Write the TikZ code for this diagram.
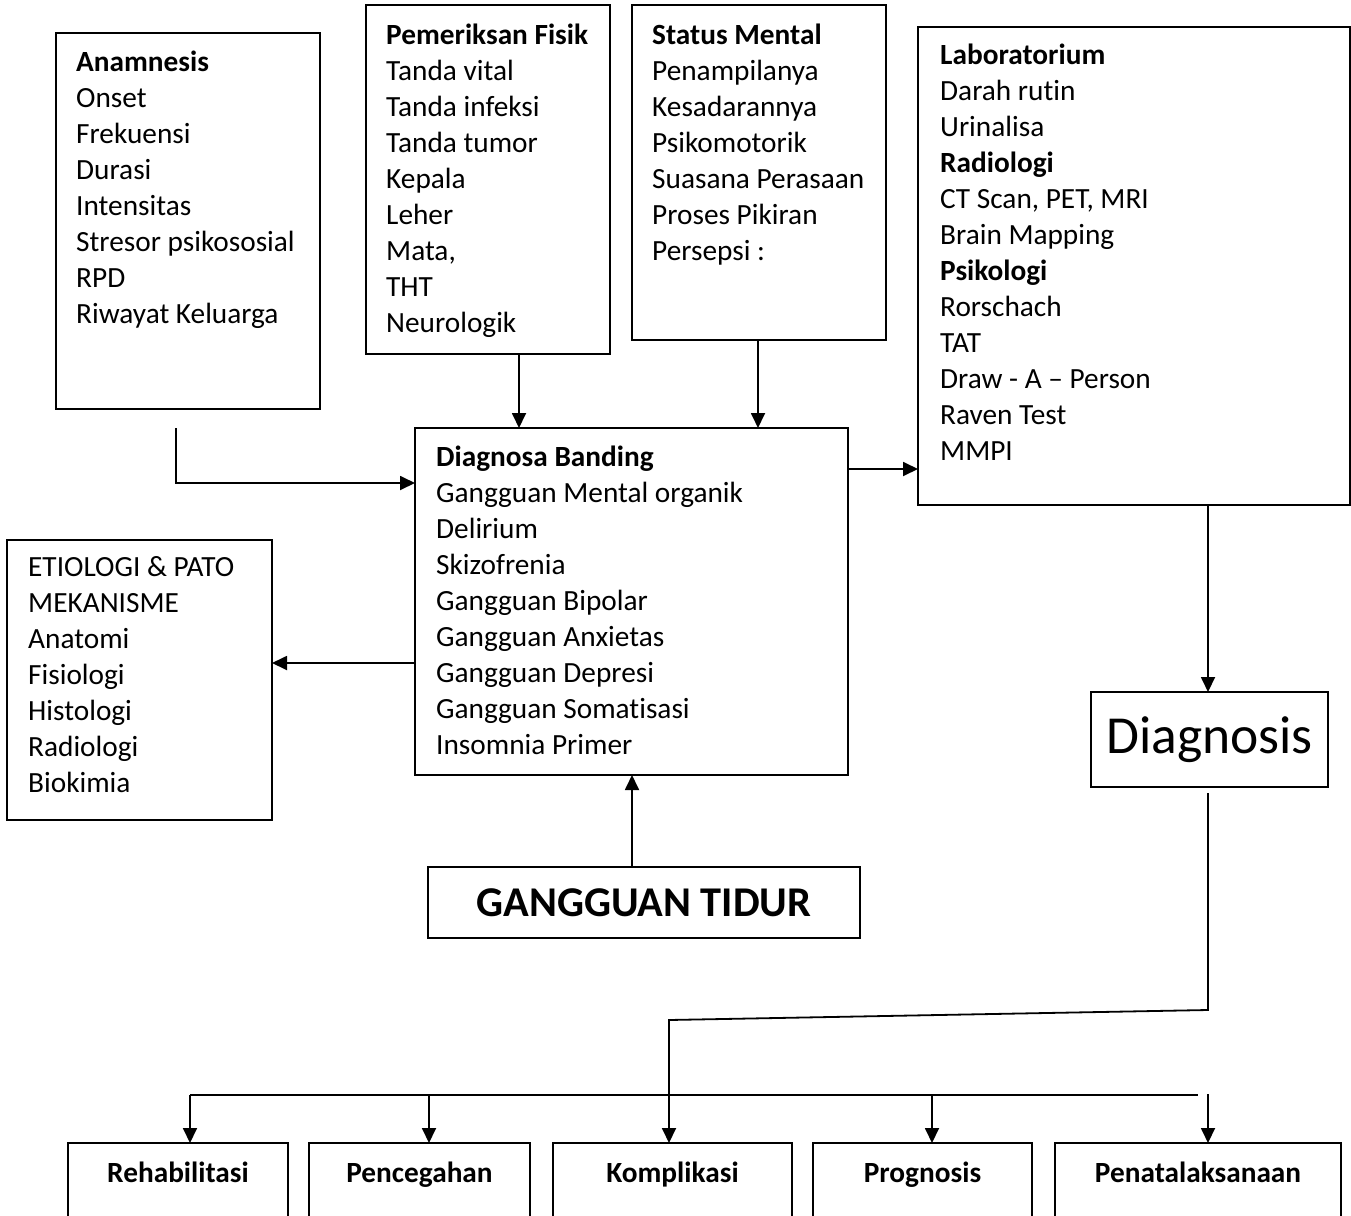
\documentclass[tikz,border=0pt]{standalone}
\usepackage{fontspec}
\setmainfont{Carlito}[Ligatures=NoCommon]
\usetikzlibrary{arrows.meta,calc}
\begin{document}
\begin{tikzpicture}[x=1pt,y=-1pt,
  box/.style={draw, line width=1.8pt, anchor=north west, inner sep=0pt, outer sep=0pt},
  txt/.style={anchor=north west, inner sep=0pt, align=left, font=\fontsize{29.3}{36}\selectfont},
  lbl/.style={anchor=base, inner sep=0pt, font=\fontsize{29.3}{36}\selectfont\bfseries},
  conn/.style={line width=1.8pt},
  arr/.style={conn, -{Triangle[length=15pt,width=14pt]}}]
\fill[white] (0,0) rectangle (1351,1215);
\clip (0,0) rectangle (1351,1215);

% boxes
\node[box, minimum width=264pt, minimum height=376pt] (anam) at (56,33) {};
\node[box, minimum width=244pt, minimum height=349pt] (pf) at (366,5) {};
\node[box, minimum width=254pt, minimum height=335pt] (sm) at (632,5) {};
\node[box, minimum width=432pt, minimum height=478pt] (lab) at (918,27) {};
\node[box, minimum width=433pt, minimum height=347pt] (db) at (415,428) {};
\node[box, minimum width=265pt, minimum height=280pt] (et) at (7,540) {};
\node[box, minimum width=432pt, minimum height=71pt, font=\fontsize{42.4}{50}\selectfont\bfseries] (gt) at (428,867) {GANGGUAN TIDUR};
\node[box, minimum width=237pt, minimum height=95pt, font=\fontsize{53.5}{64}\selectfont] (diag) at (1091,692) {Diagnosis};

\node[box, minimum width=220pt, minimum height=90pt] (b1) at (68,1143) {};
\node[box, minimum width=221pt, minimum height=90pt] (b2) at (309,1143) {};
\node[box, minimum width=239pt, minimum height=90pt] (b3) at (553,1143) {};
\node[box, minimum width=219pt, minimum height=90pt] (b4) at (813,1143) {};
\node[box, minimum width=286pt, minimum height=90pt] (b5) at (1055,1143) {};

\node[lbl] (b1t) at ([yshift=-39.5pt]b1.north) {Rehabilitasi};
\node[lbl] (b2t) at ([yshift=-39.5pt]b2.north) {Pencegahan};
\node[lbl] (b3t) at ([yshift=-39.5pt]b3.north) {Komplikasi};
\node[lbl] (b4t) at ([yshift=-39.5pt]b4.north) {Prognosis};
\node[lbl] (b5t) at ([yshift=-39.5pt]b5.north) {Penatalaksanaan};

% texts
\node[txt] (anamT) at (76,46.2) {\strut\textbf{Anamnesis}\\Onset\\Frekuensi\\Durasi\\Intensitas\\Stresor psikososial\\RPD\\Riwayat Keluarga};
\node[txt] (pfT) at (386,19.2) {\strut\textbf{Pemeriksan Fisik}\\Tanda vital\\Tanda infeksi\\Tanda tumor\\Kepala\\Leher\\Mata,\\THT\\Neurologik};
\node[txt] (smT) at (652,19.2) {\strut\textbf{Status Mental}\\Penampilanya\\Kesadarannya\\Psikomotorik\\Suasana Perasaan\\Proses Pikiran\\Persepsi :};
\node[txt] (labT) at (940,39.2) {\strut\textbf{Laboratorium}\\Darah rutin\\Urinalisa\\\textbf{Radiologi}\\CT Scan, PET, MRI\\Brain Mapping\\\textbf{Psikologi}\\Rorschach\\TAT\\Draw - A – Person\\Raven Test\\MMPI};
\node[txt] (dbT) at (436,441.2) {\strut\textbf{Diagnosa Banding}\\Gangguan Mental organik\\Delirium\\Skizofrenia\\Gangguan Bipolar\\Gangguan Anxietas\\Gangguan Depresi\\Gangguan Somatisasi\\Insomnia Primer};
\node[txt] (etT) at (28,551.2) {\strut ETIOLOGI \& PATO\\MEKANISME\\Anatomi\\Fisiologi\\Histologi\\Radiologi\\Biokimia};

% connectors
\coordinate (a0) at ([xshift=120pt, yshift=-19pt]anam.south west);
\draw[arr] (a0) |- ([yshift=-55pt]db.north west);
\draw[arr] ([xshift=153pt]pf.south west) -- ([xshift=104pt]db.north west);
\draw[arr] ([xshift=126pt]sm.south west) -- ([xshift=343pt]db.north west);
\draw[arr] ([yshift=-41pt]db.north east) coordinate (d1) -- (d1 -| lab.west);
\draw[arr] ([yshift=-235pt]db.north west) coordinate (d2) -- (d2 -| et.east);
\draw[arr] ([xshift=-12pt]gt.north) coordinate (g1) -- (g1 |- db.south);
\draw[arr] ([xshift=-1.5pt]diag.north |- lab.south) coordinate (l1) -- (l1 |- diag.north);

\coordinate (k0) at ([xshift=-1.5pt,yshift=-6pt]diag.south);
\coordinate (k1) at ($(k0)+(0,217)$);
\coordinate (k2) at (669,1020);
\draw[arr] (k0) -- (k1) -- (k2) -- (k2 |- b3.north);

\coordinate (bl) at (190,1095);
\coordinate (br) at (1198,1095);
\coordinate (bp2) at (429,1095);
\coordinate (bp4) at (932,1095);
\coordinate (bp5) at (1208,1094);
\draw[conn] (bl) -- (br);
\draw[arr] (bl) -- (bl |- b1.north);
\draw[arr] (bp2) -- (bp2 |- b2.north);
\draw[arr] (bp4) -- (bp4 |- b4.north);
\draw[arr] (bp5) -- (bp5 |- b5.north);
\end{tikzpicture}
\end{document}
